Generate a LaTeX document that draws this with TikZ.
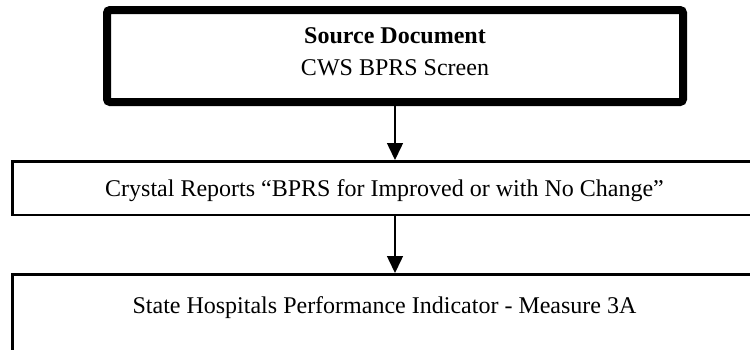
\documentclass[tikz,border=0pt]{standalone}
\usepackage{fontspec}
\setmainfont{Liberation Serif}
\usetikzlibrary{arrows.meta}
\begin{document}
\begin{tikzpicture}[x=1pt,y=-1pt,
  srcbox/.style={draw=black,line width=8pt,rounded corners=3pt,minimum width=576pt,minimum height=92pt,inner sep=0pt},
  flowbox/.style={draw=black,line width=2.5pt,inner sep=0pt},
  boxtext/.style={font=\fontsize{24}{32}\selectfont,align=center,inner sep=0pt},
  flowarrow/.style={line width=1.5pt,-{Triangle[width=16pt,length=17pt]}}
]
\useasboundingbox[fill=white] (0,0) rectangle (750,349);
\node[srcbox] (src) at (395,56) {};
\node[boxtext] (srctext) at (395,52) {\textbf{Source Document}\\CWS BPRS Screen};
\node[flowbox,minimum width=744.5pt,minimum height=53.5pt,font=\fontsize{24}{32}\selectfont,text depth=0pt] (crys) at (384.5,188) {Crystal Reports “BPRS for Improved or with No Change”};
\node[flowbox,minimum width=744.5pt,minimum height=120pt] (st) at (384.5,334.25) {};
\node[boxtext,anchor=base] (sttext) at (384.5,313) {State Hospitals Performance Indicator - Measure 3A};
\draw[flowarrow] (src.south) -- (src.south |- crys.north);
\draw[flowarrow] (src.south |- crys.south) -- (src.south |- st.north);
\end{tikzpicture}
\end{document}
